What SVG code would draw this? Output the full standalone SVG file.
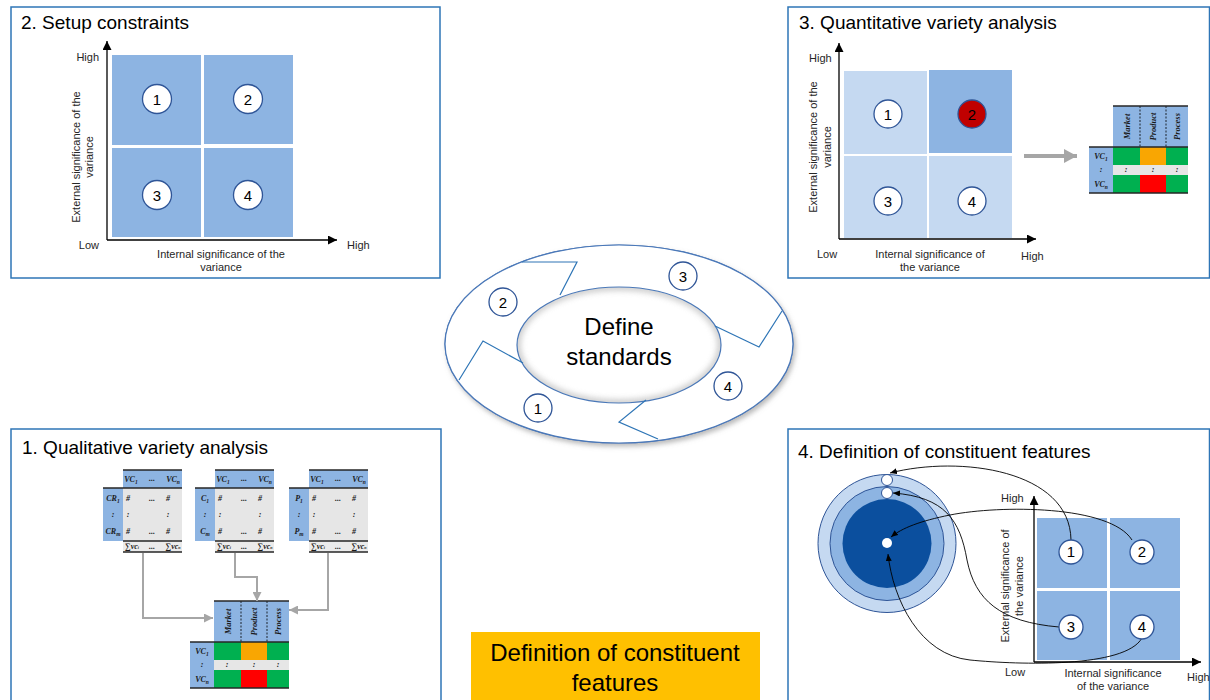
<svg xmlns="http://www.w3.org/2000/svg" xmlns:xlink="http://www.w3.org/1999/xlink" width="1210" height="700" viewBox="0 0 1210 700">
<style>
.panel{fill:#fff;stroke:#2E75B6;stroke-width:1.5}
.title{font-family:"Liberation Sans",Arial,sans-serif;font-size:19px;fill:#000}
.lbl{font-family:"Liberation Sans",Arial,sans-serif;font-size:11px;fill:#262626}
.quad{fill:#8DB4E2}
.quadl{fill:#C5D9F1}
.num{fill:#fff;stroke:#2F5597;stroke-width:1.3}
.numt{font-family:"Liberation Sans",Arial,sans-serif;font-size:15px;fill:#000;text-anchor:middle}
.axis{stroke:#000;stroke-width:1.3;fill:none}
.tt{font-family:"Liberation Serif","Times New Roman",serif;font-weight:bold;font-style:italic;font-size:8px;fill:#1a1a1a;text-anchor:middle}
.th{font-family:"Liberation Serif","Times New Roman",serif;font-weight:bold;font-style:italic;font-size:8.5px;fill:#1a1a1a;text-anchor:middle}
.tl{stroke:#262626;stroke-width:1.6}
.gconn{stroke:#A6A6A6;stroke-width:2;fill:none}
.bconn{stroke:#000;stroke-width:0.9;fill:none}
.chev{stroke:#2E75B6;stroke-width:1.2;fill:none}
.big{font-family:"Liberation Sans",Arial,sans-serif;font-size:24px;fill:#000;text-anchor:middle}
</style>
<defs>
<marker id="ah" markerUnits="userSpaceOnUse" markerWidth="9" markerHeight="9" refX="9" refY="4.5" orient="auto"><path d="M0,0 L9,4.5 L0,9 z" fill="#000"/></marker>
<marker id="ahs" markerUnits="userSpaceOnUse" markerWidth="7" markerHeight="6" refX="7" refY="3" orient="auto"><path d="M0,0 L7,3 L0,6 z" fill="#000"/></marker>
<marker id="gah" markerUnits="userSpaceOnUse" markerWidth="9" markerHeight="9" refX="9" refY="4.5" orient="auto"><path d="M0,0 L9,4.5 L0,9 z" fill="#A6A6A6"/></marker>
<marker id="gbig" markerUnits="userSpaceOnUse" markerWidth="13" markerHeight="14" refX="13" refY="7" orient="auto"><path d="M0,0 L13,7 L0,14 z" fill="#A6A6A6"/></marker>
<filter id="sh" x="-10%" y="-10%" width="125%" height="130%"><feDropShadow dx="2" dy="3" stdDeviation="2.5" flood-color="#7f7f7f" flood-opacity="0.55"/></filter>
<filter id="bl"><feGaussianBlur stdDeviation="3"/></filter>
<clipPath id="innerClip"><ellipse cx="619" cy="345" rx="102" ry="58"/></clipPath>
<g id="srcBase">
<rect x="20" y="0" width="59" height="18" fill="#8DB4E2"/>
<rect x="0" y="18" width="20" height="53" fill="#8DB4E2"/>
<rect x="20" y="18" width="59" height="53" fill="#E6E6E6"/>
<rect x="20" y="71" width="59" height="11" fill="#EBEBEB"/>
<line class="tl" x1="20" y1="0" x2="79" y2="0"/>
<line class="tl" x1="0" y1="18" x2="79" y2="18"/>
<line class="tl" x1="20" y1="71" x2="79" y2="71"/>
<line class="tl" x1="20" y1="82" x2="79" y2="82"/>
<text class="tt" x="28" y="12">VC<tspan font-size="5.5" dy="1.5">1</tspan></text>
<text class="tt" x="49" y="11">...</text>
<text class="tt" x="70" y="12">VC<tspan font-size="5.5" dy="1.5">n</tspan></text>
<text class="tt" x="25" y="31">#</text><text class="tt" x="49" y="31">...</text><text class="tt" x="65" y="31">#</text>
<text class="tt" x="25" y="47">:</text><text class="tt" x="65" y="47">:</text>
<text class="tt" x="25" y="64">#</text><text class="tt" x="49" y="64">...</text><text class="tt" x="65" y="64">#</text>
<text class="tt" x="29" y="79" font-size="5.5">∑vc<tspan font-size="4">i</tspan></text>
<text class="tt" x="49" y="79" font-size="5.5">...</text>
<text class="tt" x="70" y="79" font-size="5.5">∑vc<tspan font-size="4">n</tspan></text>
</g>
<g id="resTable">
<rect x="24" y="0" width="75" height="41" fill="#8DB4E2"/>
<rect x="0" y="41" width="24" height="46" fill="#8DB4E2"/>
<rect x="24" y="41" width="27" height="18" fill="#00B050"/>
<rect x="51" y="41" width="26" height="18" fill="#F9A602"/>
<rect x="77" y="41" width="22" height="18" fill="#00B050"/>
<rect x="24" y="59" width="75" height="10" fill="#E6E6E6"/>
<rect x="24" y="69" width="27" height="18" fill="#00B050"/>
<rect x="51" y="69" width="26" height="18" fill="#FF0000"/>
<rect x="77" y="69" width="22" height="18" fill="#00B050"/>
<line x1="51" y1="0" x2="51" y2="41" stroke="#000" stroke-width="0.8" stroke-dasharray="2,1.5"/>
<line x1="77" y1="0" x2="77" y2="41" stroke="#000" stroke-width="0.8" stroke-dasharray="2,1.5"/>
<line class="tl" x1="24" y1="0" x2="99" y2="0"/>
<line class="tl" x1="0" y1="41" x2="99" y2="41"/>
<line class="tl" x1="0" y1="87" x2="99" y2="87"/>
<text class="th" transform="translate(40.5,20.5) rotate(-90)">Market</text>
<text class="th" transform="translate(67,20.5) rotate(-90)">Product</text>
<text class="th" transform="translate(91,20.5) rotate(-90)">Process</text>
<text class="tt" x="12" y="53">VC<tspan font-size="5.5" dy="1.5">1</tspan></text>
<text class="tt" x="12" y="66">:</text>
<text class="tt" x="12" y="81">VC<tspan font-size="5.5" dy="1.5">n</tspan></text>
<text class="tt" x="37" y="66">:</text><text class="tt" x="64" y="66">:</text><text class="tt" x="88" y="66">:</text>
</g>
</defs>

<rect width="1210" height="700" fill="#fff"/>

<!-- Panel 2 -->
<g id="panel2">
<rect class="panel" x="11" y="7" width="429" height="271"/>
<text class="title" x="21" y="29" font-size="18">2. Setup constraints</text>
<rect class="quad" x="112" y="55" width="89" height="90"/>
<rect class="quad" x="204" y="55" width="89" height="89"/>
<rect class="quad" x="112" y="148" width="89" height="89"/>
<rect class="quad" x="204" y="148" width="89" height="89"/>
<path class="axis" d="M107,240 V41" marker-end="url(#ah)"/>
<path class="axis" d="M107,240 H337" marker-end="url(#ah)"/>
<circle class="num" cx="157" cy="99" r="14.5"/><text class="numt" x="157" y="104.5">1</text>
<circle class="num" cx="248" cy="99" r="14.5"/><text class="numt" x="248" y="104.5">2</text>
<circle class="num" cx="157" cy="195" r="14.5"/><text class="numt" x="157" y="200.5">3</text>
<circle class="num" cx="248" cy="195" r="14.5"/><text class="numt" x="248" y="200.5">4</text>
<text class="lbl" x="99" y="61" text-anchor="end">High</text>
<text class="lbl" x="99" y="249" text-anchor="end">Low</text>
<text class="lbl" x="347" y="249">High</text>
<text class="lbl" x="221" y="258" text-anchor="middle">Internal significance of the</text>
<text class="lbl" x="221" y="271" text-anchor="middle">variance</text>
<text class="lbl" transform="translate(80,157) rotate(-90)" text-anchor="middle">External significance of the</text>
<text class="lbl" transform="translate(93,157) rotate(-90)" text-anchor="middle">variance</text>
</g>

<!-- Panel 3 -->
<g id="panel3">
<rect class="panel" x="788" y="7" width="421.5" height="271"/>
<text class="title" x="799" y="29">3. Quantitative variety analysis</text>
<rect class="quadl" x="844" y="71" width="83" height="83"/>
<rect class="quad" x="929" y="70" width="83" height="83"/>
<rect class="quadl" x="844" y="156" width="83" height="82"/>
<rect class="quadl" x="929" y="156" width="83" height="82"/>
<path class="axis" d="M839,239 V43" marker-end="url(#ah)"/>
<path class="axis" d="M839,239 H1036" marker-end="url(#ah)"/>
<circle class="num" cx="888" cy="114" r="14"/><text class="numt" x="888" y="119.5">1</text>
<circle cx="972" cy="114" r="14" fill="#C00000" stroke="#2F5597" stroke-width="1.3"/><text class="numt" x="972" y="119.5">2</text>
<circle class="num" cx="888" cy="201" r="14"/><text class="numt" x="888" y="206.5">3</text>
<circle class="num" cx="972" cy="201" r="14"/><text class="numt" x="972" y="206.5">4</text>
<text class="lbl" x="809" y="62">High</text>
<text class="lbl" x="817" y="258">Low</text>
<text class="lbl" x="1021" y="260">High</text>
<text class="lbl" x="930" y="258" text-anchor="middle">Internal significance of</text>
<text class="lbl" x="930" y="271" text-anchor="middle">the variance</text>
<text class="lbl" transform="translate(817,147) rotate(-90)" text-anchor="middle">External significance of the</text>
<text class="lbl" transform="translate(831,147) rotate(-90)" text-anchor="middle">variance</text>
<path d="M1024,156 H1077" stroke="#A6A6A6" stroke-width="4" fill="none" marker-end="url(#gbig)"/>
<use xlink:href="#resTable" href="#resTable" transform="translate(1089,106)"/>
</g>

<!-- Center cycle -->
<g id="cycle">
<ellipse cx="619" cy="344" rx="174" ry="99" fill="#fff" stroke="#4A78B8" stroke-width="1.2" filter="url(#sh)"/>
<ellipse cx="619" cy="344" rx="174" ry="99" fill="#fff" stroke="#4A78B8" stroke-width="1.2"/>
<g clip-path="url(#innerClip)"><ellipse cx="619" cy="345" rx="102" ry="58" fill="none" stroke="#9a9a9a" stroke-width="6" opacity="0.6" filter="url(#bl)"/></g>
<ellipse cx="619" cy="345" rx="102" ry="58" fill="none" stroke="#4A78B8" stroke-width="1.2"/>
<path class="chev" d="M522,262 H577 L560,295"/>
<path class="chev" d="M459,380 L483,341 L523,363"/>
<path class="chev" d="M782,311 L759,347 L715,326"/>
<path class="chev" d="M646,400 L619,422 L658,439"/>
<circle class="num" cx="503" cy="302" r="14"/><text class="numt" x="503" y="307.5" font-size="14">2</text>
<circle class="num" cx="683" cy="276" r="14"/><text class="numt" x="683" y="281.5" font-size="14">3</text>
<circle class="num" cx="728" cy="386" r="14"/><text class="numt" x="728" y="391.5" font-size="14">4</text>
<circle class="num" cx="538" cy="408" r="14"/><text class="numt" x="538" y="413.5" font-size="14">1</text>
<text class="big" x="619" y="335">Define</text>
<text class="big" x="619" y="365">standards</text>
</g>

<!-- Panel 1 -->
<g id="panel1">
<rect class="panel" x="11" y="429" width="430" height="290"/>
<text class="title" x="22" y="454">1. Qualitative variety analysis</text>
<g id="tableCR" transform="translate(103,470)">
<use xlink:href="#srcBase" href="#srcBase"/>
<text class="tt" x="10" y="31">CR<tspan font-size="5.5" dy="1.5">1</tspan></text>
<text class="tt" x="10" y="47">:</text>
<text class="tt" x="10" y="64">CR<tspan font-size="5.5" dy="1.5">m</tspan></text>
</g>
<g id="tableC" transform="translate(195,470)">
<use xlink:href="#srcBase" href="#srcBase"/>
<text class="tt" x="10" y="31">C<tspan font-size="5.5" dy="1.5">1</tspan></text>
<text class="tt" x="10" y="47">:</text>
<text class="tt" x="10" y="64">C<tspan font-size="5.5" dy="1.5">m</tspan></text>
</g>
<g id="tableP" transform="translate(289,470)">
<use xlink:href="#srcBase" href="#srcBase"/>
<text class="tt" x="10" y="31">P<tspan font-size="5.5" dy="1.5">1</tspan></text>
<text class="tt" x="10" y="47">:</text>
<text class="tt" x="10" y="64">P<tspan font-size="5.5" dy="1.5">m</tspan></text>
</g>
<g id="tableResult" transform="translate(190,601)">
<use xlink:href="#resTable" href="#resTable"/>
</g>
</g>

<g id="connectors1">
<path class="gconn" d="M143,553 V618 H213" marker-end="url(#gah)"/>
<path class="gconn" d="M235,553 V577 H257 V601" marker-end="url(#gah)"/>
<path class="gconn" d="M328,553 V610 H289" marker-end="url(#gah)"/>
</g>

<!-- Bottom label -->
<g id="label">
<rect x="471" y="632" width="289" height="70" fill="#FFC000"/>
<text class="big" x="615" y="661">Definition of constituent</text>
<text class="big" x="615" y="691">features</text>
</g>

<!-- Panel 4 -->
<g id="panel4">
<rect class="panel" x="788" y="429" width="421.5" height="290"/>
<text class="title" x="798" y="458">4. Definition of constituent features</text>
<circle cx="887" cy="543.5" r="69" fill="#C5D9F1" stroke="#2F5597" stroke-width="1"/>
<circle cx="887" cy="543.5" r="57" fill="#8DB4E2" stroke="#2F5597" stroke-width="1"/>
<circle cx="887" cy="543.5" r="44.5" fill="#0B4F9E"/>
<circle cx="887" cy="480" r="5.5" fill="#fff" stroke="#2F5597" stroke-width="1"/>
<circle cx="887" cy="493" r="5.5" fill="#fff" stroke="#2F5597" stroke-width="1"/>
<circle cx="887" cy="543" r="5" fill="#fff"/>
<rect class="quad" x="1037" y="518" width="70" height="70"/>
<rect class="quad" x="1110" y="518" width="70" height="70"/>
<rect class="quad" x="1037" y="591" width="70" height="69"/>
<rect class="quad" x="1110" y="591" width="70" height="69"/>
<path class="axis" d="M1034,662 V496" marker-end="url(#ah)"/>
<path class="axis" d="M1034,662 H1201" marker-end="url(#ah)"/>
<text class="lbl" x="1001" y="502">High</text>
<text class="lbl" x="1005" y="676">Low</text>
<text class="lbl" x="1187" y="681">High</text>
<text class="lbl" x="1113" y="677" text-anchor="middle">Internal significance</text>
<text class="lbl" x="1113" y="690" text-anchor="middle">of the variance</text>
<text class="lbl" transform="translate(1009,586) rotate(-90)" text-anchor="middle">External significance of</text>
<text class="lbl" transform="translate(1023,586) rotate(-90)" text-anchor="middle">the variance</text>
</g>

<g id="connectors4">
<path class="bconn" d="M1071,540 C1070,470 960,455 890,473" marker-end="url(#ahs)"/>
<path class="bconn" d="M1132,540 C1110,505 1000,505 950,515 C920,521 902,528 891,537" marker-end="url(#ahs)"/>
<path class="bconn" d="M1059,627 C1000,622 975,600 967,560 C960,520 945,497 893,493" marker-end="url(#ahs)"/>
<path class="bconn" d="M1142,638 C1125,668 1020,665 970,660 C920,655 893,600 888,554" marker-end="url(#ahs)"/>
</g>

<g id="p4nums">
<circle class="num" cx="1071" cy="552" r="12"/><text class="numt" x="1071" y="557" font-size="14">1</text>
<circle class="num" cx="1142" cy="552" r="12"/><text class="numt" x="1142" y="557" font-size="14">2</text>
<circle class="num" cx="1071" cy="627" r="12"/><text class="numt" x="1071" y="632" font-size="14">3</text>
<circle class="num" cx="1142" cy="627" r="12"/><text class="numt" x="1142" y="632" font-size="14">4</text>
</g>
</svg>
